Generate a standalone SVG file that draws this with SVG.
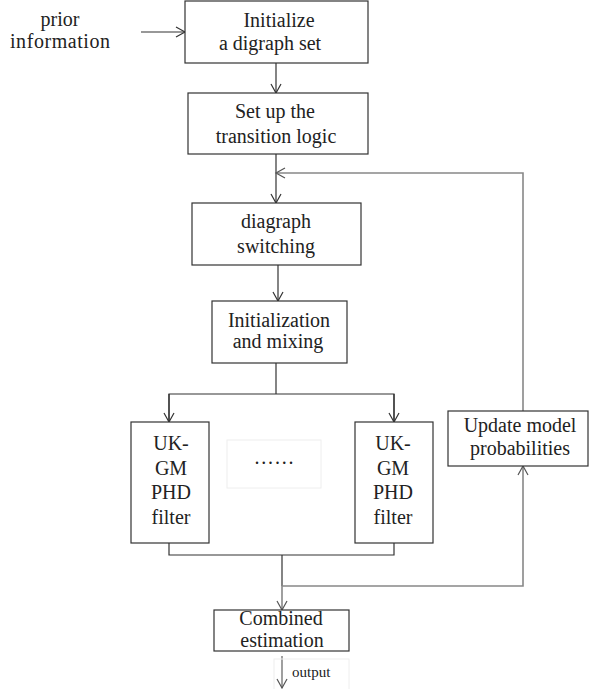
<svg xmlns="http://www.w3.org/2000/svg" width="589" height="689" viewBox="0 0 589 689">
<style>
  .box { fill: #fff; stroke: #333; stroke-width: 1.2; }
  .faint { fill: none; stroke: #eee; stroke-width: 1; }
  .t { font-family: "Liberation Serif", "Times New Roman", serif; font-size: 20px; fill: #222; text-anchor: middle; }
  .s { font-family: "Liberation Serif", "Times New Roman", serif; font-size: 15px; fill: #222; }
  .ln { fill: none; stroke: #333; stroke-width: 1.2; }
  .fb { fill: none; stroke: #888; stroke-width: 1.6; }
</style>
<defs>
  <marker id="ah" markerWidth="12" markerHeight="12" refX="10" refY="5" orient="auto" markerUnits="userSpaceOnUse" viewBox="0 0 12 10">
    <polyline points="1,0 10,5 1,10" fill="none" stroke="#333" stroke-width="1.2"/>
  </marker>
  <marker id="ahg" markerWidth="12" markerHeight="12" refX="10" refY="5" orient="auto" markerUnits="userSpaceOnUse" viewBox="0 0 12 10">
    <polyline points="1,0 10,5 1,10" fill="none" stroke="#555" stroke-width="1.2"/>
  </marker>
</defs>
<rect width="589" height="689" fill="#fff"/>

<g id="connectors">
  <line class="ln" x1="141" y1="32" x2="185" y2="32" marker-end="url(#ah)"/>
  <line class="ln" x1="276" y1="63" x2="276" y2="93" marker-end="url(#ah)"/>
  <line class="ln" x1="276" y1="154" x2="276" y2="203" marker-end="url(#ah)"/>
  <line class="ln" x1="278" y1="265" x2="278" y2="301" marker-end="url(#ah)"/>
  <polyline class="ln" points="276,363 276,394"/>
  <polyline class="ln" points="169,422 169,394 394,394 394,422"/>
  <line class="ln" x1="169" y1="394" x2="169" y2="422" marker-end="url(#ah)"/>
  <line class="ln" x1="394" y1="394" x2="394" y2="422" marker-end="url(#ah)"/>
  <polyline class="ln" points="169,543 169,555 394,555 394,543"/>
  <line class="ln" x1="282" y1="555" x2="282" y2="586"/>
  <line class="fb" x1="282" y1="586" x2="282" y2="610" marker-end="url(#ahg)"/>
  <polyline class="fb" points="282,586 523,586 523,466" marker-end="url(#ahg)"/>
  <polyline class="fb" points="523,411 523,173 276,173" marker-end="url(#ahg)"/>
  <line class="fb" x1="282" y1="656" x2="282" y2="688" marker-end="url(#ahg)"/>
</g>

<g id="prior">
  <text class="t" x="60" y="26">prior</text>
  <text class="t" x="60" y="48" textLength="100" lengthAdjust="spacing">information</text>
</g>

<g id="init-digraph">
  <rect class="box" x="185" y="1" width="183" height="62"/>
  <text class="t" x="279" y="27">Initialize</text>
  <text class="t" x="270" y="50">a digraph set</text>
</g>

<g id="transition-logic">
  <rect class="box" x="188" y="93" width="180" height="61"/>
  <text class="t" x="275" y="118">Set up the</text>
  <text class="t" x="276" y="143">transition logic</text>
</g>

<g id="digraph-switching">
  <rect class="box" x="192" y="203" width="169" height="62"/>
  <text class="t" x="276" y="228">diagraph</text>
  <text class="t" x="276" y="253">switching</text>
</g>

<g id="init-mixing">
  <rect class="box" x="212" y="301" width="135" height="62"/>
  <text class="t" x="279" y="327">Initialization</text>
  <text class="t" x="278" y="348">and mixing</text>
</g>

<g id="filter1">
  <rect class="box" x="131" y="422" width="78" height="121"/>
  <text class="t" x="171" y="450">UK-</text>
  <text class="t" x="171" y="475">GM</text>
  <text class="t" x="171" y="499">PHD</text>
  <text class="t" x="171" y="524">filter</text>
</g>

<g id="ellipsis">
  <rect class="faint" x="227" y="440" width="94" height="48"/>
  <text class="t" x="274" y="464" textLength="39" lengthAdjust="spacing">......</text>
</g>

<g id="filter2">
  <rect class="box" x="355" y="422" width="78" height="121"/>
  <text class="t" x="393" y="450">UK-</text>
  <text class="t" x="393" y="475">GM</text>
  <text class="t" x="393" y="499">PHD</text>
  <text class="t" x="393" y="524">filter</text>
</g>

<g id="update-model">
  <rect class="box" x="448" y="411" width="140" height="55"/>
  <text class="t" x="520" y="432">Update model</text>
  <text class="t" x="520" y="455">probabilities</text>
</g>

<g id="combined">
  <rect class="box" x="214" y="610" width="135" height="41"/>
  <text class="t" x="281" y="625">Combined</text>
  <text class="t" x="282" y="647">estimation</text>
</g>

<g id="output">
  <rect class="faint" x="274" y="659" width="75" height="32"/>
  <text class="s" x="292" y="677">output</text>
</g>
</svg>
